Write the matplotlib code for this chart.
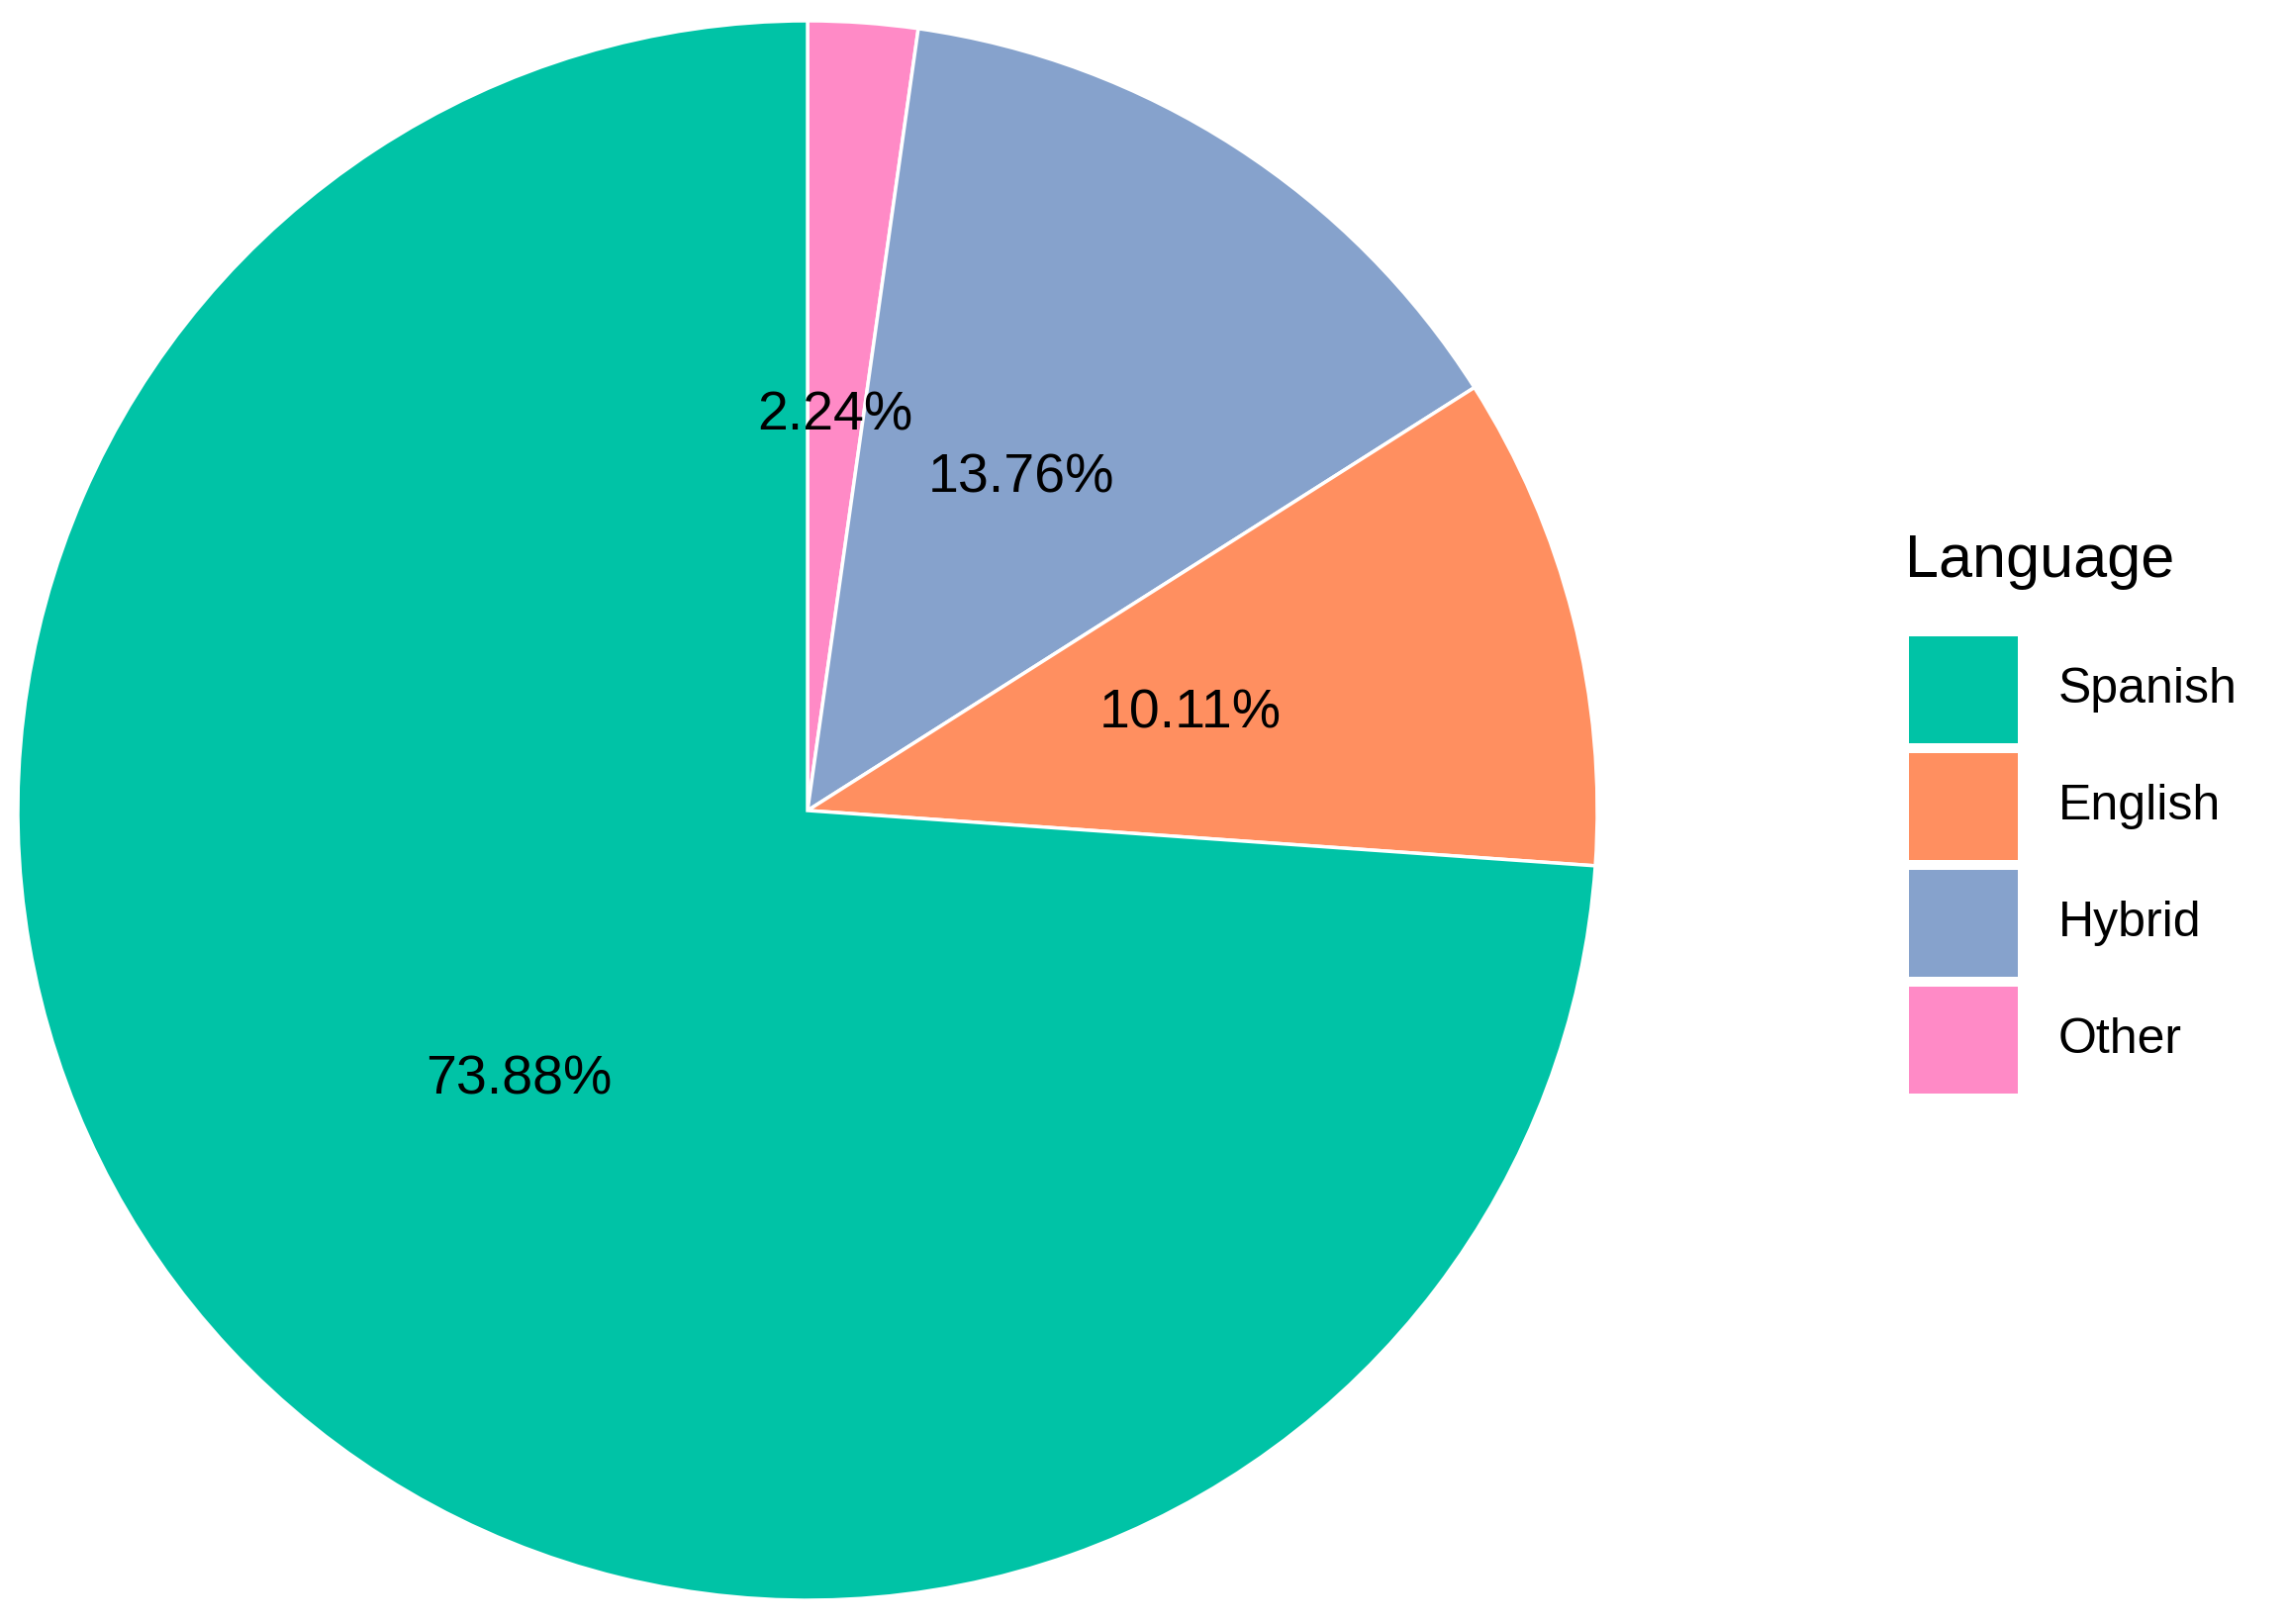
import matplotlib.pyplot as plt
from matplotlib.patches import Rectangle

# data (drawn clockwise from 12 o'clock, as in the source)
languages = ['Other', 'Hybrid', 'English', 'Spanish']
shares = [2.24, 13.76, 10.11, 73.87]
colors = ['#FF8AC6', '#86A2CC', '#FF8F60', '#00C3A6']
legend_order = ['Spanish', 'English', 'Hybrid', 'Other']

W, H = 2313, 1641
fig = plt.figure(figsize=(W / 100, H / 100), dpi=100)
plt.rcParams['font.family'] = ['Liberation Sans', 'DejaVu Sans']

cx, cy, r = 816, 819, 798
ax = fig.add_axes([(cx - r) / W, (H - cy - r) / H, 2 * r / W, 2 * r / H])
wedges, texts, autotexts = ax.pie(
    shares, colors=colors, startangle=90, counterclock=False,
    autopct=lambda p: f'{p:.2f}%', pctdistance=0.5,
    wedgeprops=dict(edgecolor='white', linewidth=2.5),
    textprops=dict(fontsize=40, color='black'))
ax.set_xlim(-1, 1)
ax.set_ylim(-1, 1)
ax.set_aspect('equal')

# legend drawn by hand, ggplot style
fig.text(1925 / W, 1 - 568 / H, 'Language', fontsize=44, va='center', ha='left')
color_of = dict(zip(languages, colors))
for i, name in enumerate(legend_order):
    top = 643 + i * 118
    fig.patches.append(Rectangle((1929 / W, 1 - (top + 108) / H), 110 / W, 108 / H,
                                 transform=fig.transFigure, facecolor=color_of[name],
                                 edgecolor='none'))
    fig.text(2080 / W, 1 - (top + 54) / H, name, fontsize=36, va='center', ha='left')

fig.savefig('out.png', dpi=100, facecolor='white')
